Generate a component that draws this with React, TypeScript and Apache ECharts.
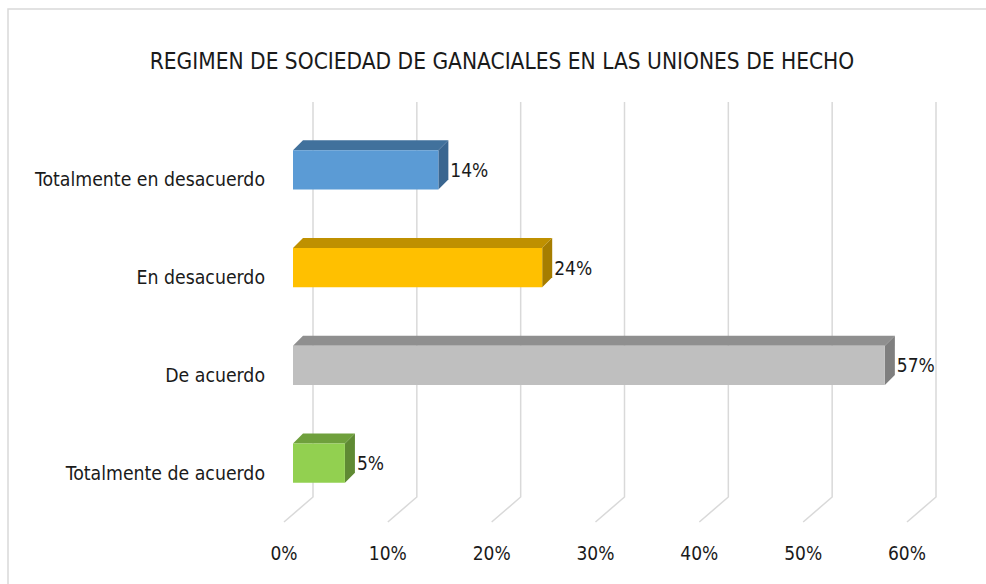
import React, { useEffect, useRef } from "react";
import * as echarts from "echarts";

const categories = [
  "Totalmente en desacuerdo",
  "En desacuerdo",
  "De acuerdo",
  "Totalmente de acuerdo",
];
const values = [14, 24, 57, 5];
const frontColors = ["#5B9BD5", "#FFC000", "#BFBFBF", "#92D050"];
const topColors = ["#41719C", "#BF9000", "#8F8F8F", "#6FA03C"];
const sideColors = ["#3A6690", "#A67D00", "#7F7F7F", "#5F8A33"];
const xTicks = [0, 10, 20, 30, 40, 50, 60];
const title = "REGIMEN DE SOCIEDAD DE GANACIALES EN LAS UNIONES DE HECHO";

const FONT = "'Liberation Sans Narrow', 'DejaVu Sans Condensed', sans-serif";

export default function App() {
  const ref = useRef<HTMLDivElement>(null);
  useEffect(() => {
    document.body.style.margin = "0";
    if (!ref.current) return;
    const chart = echarts.init(ref.current, null, { renderer: "svg" });
    const option: any = {
      animation: false,
      backgroundColor: "#ffffff",
      textStyle: { fontFamily: FONT },
      title: {
        text: title,
        left: 497,
        top: 44,
        textAlign: "center",
        textStyle: { fontFamily: FONT, fontSize: 22.5, fontWeight: "normal", color: "#1a1a1a" },
      },
      graphic: [
        {
          type: "rect",
          shape: { x: 8, y: 9, width: 1000, height: 600 },
          style: { fill: "none", stroke: "#D9D9D9", lineWidth: 1.5 },
          silent: true,
        },
      ],
      grid: { left: 284, right: 79, top: 131, bottom: 62 },
      xAxis: {
        type: "value",
        min: 0,
        max: 60,
        interval: 10,
        axisLine: { show: false },
        axisTick: { show: false },
        splitLine: { show: false },
        axisLabel: {
          formatter: "{value}%",
          margin: 21,
          fontSize: 19,
          color: "#1a1a1a",
          fontFamily: FONT,
        },
      },
      yAxis: {
        type: "category",
        data: categories,
        inverse: true,
        axisLine: { show: false },
        axisTick: { show: false },
        splitLine: { show: false },
        axisLabel: { margin: 19, fontSize: 19.3, color: "#1a1a1a", fontFamily: FONT },
      },
      series: [
        {
          type: "custom",
          z: 1,
          silent: true,
          data: xTicks.map((v) => [v, 0]),
          encode: { x: 0, y: 1 },
          renderItem: (params: any, api: any) => {
            const cs = params.coordSys;
            const x = api.coord([api.value(0), 0])[0];
            const bottom = cs.y + cs.height;
            return {
              type: "polyline",
              shape: {
                points: [
                  [x + 29, cs.y - 29],
                  [x + 29, bottom - 25],
                  [x, bottom],
                ],
              },
              style: { stroke: "#D9D9D9", lineWidth: 1.5, fill: "none" },
            };
          },
        },
        {
          type: "custom",
          z: 2,
          data: values.map((v, i) => [v, i]),
          encode: { x: 0, y: 1 },
          renderItem: (params: any, api: any) => {
            const v = api.value(0);
            const i = api.value(1);
            const s = api.coord([0, i]);
            const e = api.coord([v, i]);
            const band = api.size([0, 1])[1];
            const h = band * 0.4;
            const x0 = s[0] + 9;
            const x1 = e[0] + 9;
            const yc = s[1] - 10;
            const y0 = yc - h / 2;
            const y1 = yc + h / 2;
            const d = 10;
            const idx = params.dataIndex;
            return {
              type: "group",
              children: [
                {
                  type: "polygon",
                  shape: { points: [[x0, y0], [x1, y0], [x1 + d, y0 - d], [x0 + d, y0 - d]] },
                  style: { fill: topColors[idx] },
                },
                {
                  type: "polygon",
                  shape: { points: [[x1, y0], [x1 + d, y0 - d], [x1 + d, y1 - d], [x1, y1]] },
                  style: { fill: sideColors[idx] },
                },
                {
                  type: "rect",
                  shape: { x: x0, y: y0, width: x1 - x0, height: h },
                  style: { fill: frontColors[idx] },
                },
                {
                  type: "text",
                  style: {
                    text: v + "%",
                    x: x1 + 12,
                    y: yc,
                    verticalAlign: "middle",
                    fontSize: 19,
                    fontFamily: FONT,
                    fill: "#1a1a1a",
                  },
                },
              ],
            };
          },
        },
      ],
    };
    chart.setOption(option);
    return () => chart.dispose();
  }, []);
  return <div ref={ref} style={{ width: 986, height: 584 }} />;
}
